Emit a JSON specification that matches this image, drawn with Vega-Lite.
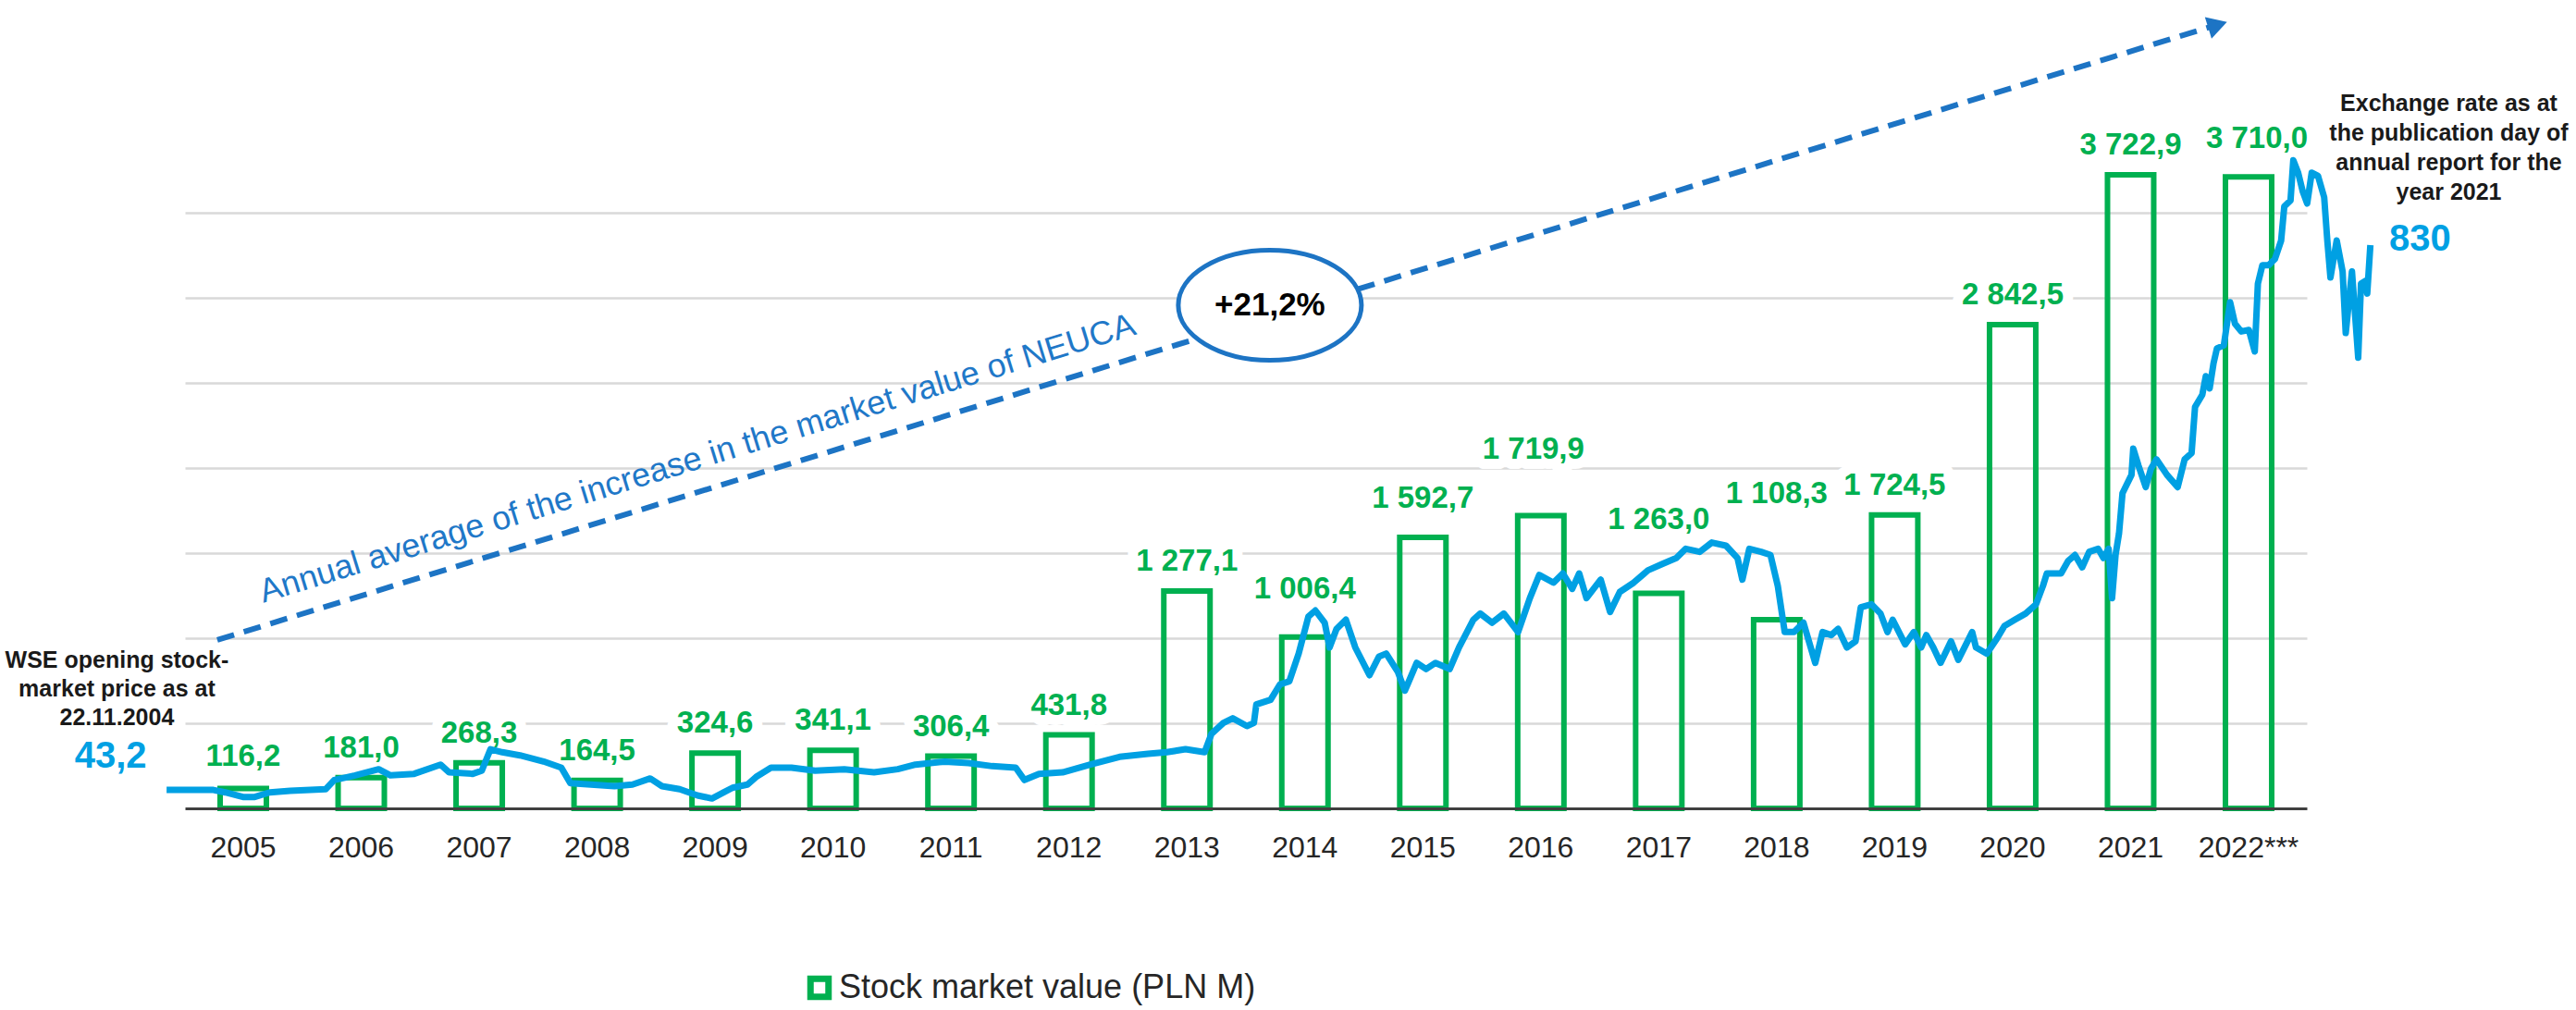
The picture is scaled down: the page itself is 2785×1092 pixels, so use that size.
{
  "$schema": "https://vega.github.io/schema/vega-lite/v6.json",
  "width": 2294,
  "height": 644,
  "autosize": {"type": "none"},
  "padding": {"left": 200, "top": 230, "right": 291, "bottom": 218},
  "background": "white",
  "config": {
    "font": "Liberation Sans",
    "view": {"stroke": null},
    "locale": {"number": {"decimal": ",", "thousands": " ", "grouping": [3], "currency": ["", ""]}}
  },
  "datasets": {
    "bars": [
      {"year": "2005", "value": 116.2},
      {"year": "2006", "value": 181.0},
      {"year": "2007", "value": 268.3},
      {"year": "2008", "value": 164.5},
      {"year": "2009", "value": 324.6},
      {"year": "2010", "value": 341.1},
      {"year": "2011", "value": 306.4},
      {"year": "2012", "value": 431.8},
      {"year": "2013", "value": 1277.1},
      {"year": "2014", "value": 1006.4},
      {"year": "2015", "value": 1592.7},
      {"year": "2016", "value": 1719.9},
      {"year": "2017", "value": 1263.0},
      {"year": "2018", "value": 1108.3},
      {"year": "2019", "value": 1724.5},
      {"year": "2020", "value": 2842.5},
      {"year": "2021", "value": 3722.9},
      {"year": "2022***", "value": 3710.0}
    ],
    "price": [
      {"date": "2004-11-22", "price": 43.2},
      {"date": "2005-04-06", "price": 43.0},
      {"date": "2005-05-10", "price": 39.5},
      {"date": "2005-06-30", "price": 32.9},
      {"date": "2005-08-03", "price": 32.9},
      {"date": "2005-09-15", "price": 39.5},
      {"date": "2005-11-13", "price": 41.8},
      {"date": "2006-02-23", "price": 44.1},
      {"date": "2006-03-20", "price": 57.4},
      {"date": "2006-05-19", "price": 64.1},
      {"date": "2006-07-26", "price": 72.9},
      {"date": "2006-08-29", "price": 64.1},
      {"date": "2006-11-05", "price": 66.3},
      {"date": "2007-01-20", "price": 79.6},
      {"date": "2007-02-14", "price": 68.5},
      {"date": "2007-04-23", "price": 66.3},
      {"date": "2007-05-19", "price": 70.8},
      {"date": "2007-06-13", "price": 101.9},
      {"date": "2007-07-17", "price": 97.5},
      {"date": "2007-09-06", "price": 93.0},
      {"date": "2007-11-13", "price": 84.2},
      {"date": "2008-01-03", "price": 75.2},
      {"date": "2008-01-29", "price": 52.9},
      {"date": "2008-03-28", "price": 50.8},
      {"date": "2008-06-04", "price": 48.5},
      {"date": "2008-07-26", "price": 50.8},
      {"date": "2008-09-15", "price": 59.6},
      {"date": "2008-10-19", "price": 48.5},
      {"date": "2008-12-09", "price": 44.1},
      {"date": "2009-01-29", "price": 35.1},
      {"date": "2009-03-12", "price": 30.7},
      {"date": "2009-04-15", "price": 39.5},
      {"date": "2009-05-10", "price": 46.2},
      {"date": "2009-06-22", "price": 50.8},
      {"date": "2009-07-17", "price": 61.8},
      {"date": "2009-08-29", "price": 75.2},
      {"date": "2009-10-27", "price": 75.2},
      {"date": "2010-01-03", "price": 70.8},
      {"date": "2010-03-28", "price": 73.0},
      {"date": "2010-06-22", "price": 68.5},
      {"date": "2010-08-29", "price": 73.0},
      {"date": "2010-10-19", "price": 79.6},
      {"date": "2011-01-12", "price": 84.0},
      {"date": "2011-03-21", "price": 81.9},
      {"date": "2011-05-28", "price": 77.4},
      {"date": "2011-08-04", "price": 75.2},
      {"date": "2011-08-29", "price": 57.4},
      {"date": "2011-10-10", "price": 66.3},
      {"date": "2011-12-17", "price": 68.5},
      {"date": "2012-03-08", "price": 80.0},
      {"date": "2012-05-29", "price": 90.8},
      {"date": "2012-08-19", "price": 95.2},
      {"date": "2012-10-12", "price": 97.5},
      {"date": "2012-12-05", "price": 101.9},
      {"date": "2013-01-29", "price": 97.5},
      {"date": "2013-02-18", "price": 124.2},
      {"date": "2013-03-24", "price": 139.8},
      {"date": "2013-04-20", "price": 146.5},
      {"date": "2013-05-31", "price": 135.3},
      {"date": "2013-06-20", "price": 139.8},
      {"date": "2013-06-27", "price": 166.5},
      {"date": "2013-08-07", "price": 173.2},
      {"date": "2013-09-03", "price": 195.4},
      {"date": "2013-09-30", "price": 199.9},
      {"date": "2013-10-27", "price": 240.0},
      {"date": "2013-11-24", "price": 293.4},
      {"date": "2013-12-14", "price": 302.3},
      {"date": "2014-01-10", "price": 284.5},
      {"date": "2014-01-24", "price": 248.9},
      {"date": "2014-02-13", "price": 275.6},
      {"date": "2014-03-12", "price": 288.9},
      {"date": "2014-04-08", "price": 248.9},
      {"date": "2014-05-19", "price": 208.8},
      {"date": "2014-06-15", "price": 235.5},
      {"date": "2014-07-06", "price": 240.0},
      {"date": "2014-08-09", "price": 213.2},
      {"date": "2014-08-29", "price": 186.5},
      {"date": "2014-10-02", "price": 226.6},
      {"date": "2014-10-29", "price": 217.7},
      {"date": "2014-11-25", "price": 226.6},
      {"date": "2015-01-05", "price": 217.7},
      {"date": "2015-02-01", "price": 248.9},
      {"date": "2015-03-14", "price": 288.9},
      {"date": "2015-04-03", "price": 297.8},
      {"date": "2015-05-07", "price": 284.5},
      {"date": "2015-06-10", "price": 297.8},
      {"date": "2015-07-21", "price": 271.1},
      {"date": "2015-08-24", "price": 320.1},
      {"date": "2015-09-20", "price": 353.5},
      {"date": "2015-10-31", "price": 342.4},
      {"date": "2015-11-27", "price": 355.7},
      {"date": "2015-12-24", "price": 333.5},
      {"date": "2016-01-13", "price": 355.7},
      {"date": "2016-02-03", "price": 320.1},
      {"date": "2016-03-15", "price": 346.8},
      {"date": "2016-04-11", "price": 300.1},
      {"date": "2016-05-09", "price": 329.0},
      {"date": "2016-06-18", "price": 342.4},
      {"date": "2016-07-29", "price": 360.2},
      {"date": "2016-09-07", "price": 369.1},
      {"date": "2016-10-19", "price": 378.0},
      {"date": "2016-11-15", "price": 391.4},
      {"date": "2016-12-25", "price": 386.9},
      {"date": "2017-01-29", "price": 400.3},
      {"date": "2017-03-11", "price": 395.8},
      {"date": "2017-04-13", "price": 378.0},
      {"date": "2017-04-27", "price": 346.8},
      {"date": "2017-05-17", "price": 391.4},
      {"date": "2017-06-20", "price": 386.9},
      {"date": "2017-07-17", "price": 382.5},
      {"date": "2017-08-07", "price": 337.9},
      {"date": "2017-08-27", "price": 271.1},
      {"date": "2017-09-23", "price": 271.1},
      {"date": "2017-10-20", "price": 284.5},
      {"date": "2017-11-23", "price": 226.6},
      {"date": "2017-12-14", "price": 271.1},
      {"date": "2018-01-08", "price": 266.7},
      {"date": "2018-01-28", "price": 275.6},
      {"date": "2018-02-22", "price": 248.8},
      {"date": "2018-03-19", "price": 257.7},
      {"date": "2018-04-03", "price": 306.7},
      {"date": "2018-05-04", "price": 311.2},
      {"date": "2018-05-30", "price": 297.8},
      {"date": "2018-06-19", "price": 271.1},
      {"date": "2018-07-04", "price": 288.9},
      {"date": "2018-08-09", "price": 253.3},
      {"date": "2018-09-03", "price": 271.1},
      {"date": "2018-09-24", "price": 248.8},
      {"date": "2018-10-09", "price": 266.7},
      {"date": "2018-10-29", "price": 248.8},
      {"date": "2018-11-19", "price": 226.6},
      {"date": "2018-12-19", "price": 257.7},
      {"date": "2019-01-09", "price": 231.0},
      {"date": "2019-02-18", "price": 271.1},
      {"date": "2019-03-01", "price": 248.8},
      {"date": "2019-04-01", "price": 239.9},
      {"date": "2019-05-01", "price": 262.2},
      {"date": "2019-05-22", "price": 280.0},
      {"date": "2019-06-21", "price": 288.9},
      {"date": "2019-07-22", "price": 297.8},
      {"date": "2019-08-21", "price": 311.2},
      {"date": "2019-09-10", "price": 337.9},
      {"date": "2019-09-21", "price": 355.7},
      {"date": "2019-11-01", "price": 355.7},
      {"date": "2019-11-21", "price": 373.5},
      {"date": "2019-12-11", "price": 382.4},
      {"date": "2020-01-01", "price": 364.6},
      {"date": "2020-01-21", "price": 386.9},
      {"date": "2020-02-16", "price": 391.3},
      {"date": "2020-03-02", "price": 378.0},
      {"date": "2020-03-17", "price": 391.3},
      {"date": "2020-03-27", "price": 320.1},
      {"date": "2020-04-06", "price": 382.4},
      {"date": "2020-04-16", "price": 413.6},
      {"date": "2020-04-26", "price": 471.5},
      {"date": "2020-05-22", "price": 498.2},
      {"date": "2020-05-27", "price": 536.1},
      {"date": "2020-06-11", "price": 511.6},
      {"date": "2020-07-02", "price": 480.4},
      {"date": "2020-07-17", "price": 507.1},
      {"date": "2020-08-02", "price": 520.5},
      {"date": "2020-09-01", "price": 498.2},
      {"date": "2020-10-02", "price": 480.4},
      {"date": "2020-10-22", "price": 520.5},
      {"date": "2020-11-11", "price": 529.4},
      {"date": "2020-11-21", "price": 596.2},
      {"date": "2020-12-12", "price": 614.0},
      {"date": "2020-12-22", "price": 640.7},
      {"date": "2021-01-02", "price": 622.9},
      {"date": "2021-01-13", "price": 658.5},
      {"date": "2021-01-23", "price": 680.8},
      {"date": "2021-02-12", "price": 685.2},
      {"date": "2021-03-02", "price": 747.5},
      {"date": "2021-03-16", "price": 716.3},
      {"date": "2021-04-03", "price": 705.2},
      {"date": "2021-04-25", "price": 707.4},
      {"date": "2021-05-12", "price": 676.3},
      {"date": "2021-05-21", "price": 774.2},
      {"date": "2021-06-03", "price": 801.0},
      {"date": "2021-06-21", "price": 801.0},
      {"date": "2021-07-09", "price": 809.9},
      {"date": "2021-07-27", "price": 836.6},
      {"date": "2021-08-05", "price": 885.6},
      {"date": "2021-08-23", "price": 894.5},
      {"date": "2021-08-31", "price": 952.4},
      {"date": "2021-09-14", "price": 934.5},
      {"date": "2021-09-27", "price": 907.8},
      {"date": "2021-10-10", "price": 890.0},
      {"date": "2021-10-23", "price": 934.5},
      {"date": "2021-11-10", "price": 930.1},
      {"date": "2021-11-28", "price": 898.9},
      {"date": "2021-12-07", "price": 836.6},
      {"date": "2021-12-16", "price": 783.1},
      {"date": "2022-01-03", "price": 836.6},
      {"date": "2022-01-20", "price": 792.0},
      {"date": "2022-01-29", "price": 703.0},
      {"date": "2022-02-16", "price": 792.0},
      {"date": "2022-03-06", "price": 667.4},
      {"date": "2022-03-14", "price": 774.2},
      {"date": "2022-03-28", "price": 778.7},
      {"date": "2022-04-01", "price": 760.0},
      {"date": "2022-04-10", "price": 830.0}
    ]
  },
  "layer": [
    {
      "data": {"name": "bars"},
      "encoding": {
        "x": {
          "field": "year", "type": "nominal", "sort": null,
          "scale": {"type": "band", "paddingInner": 0.608, "paddingOuter": 0.298},
          "axis": {"title": null, "labelFontSize": 32, "labelColor": "#262626", "labelAngle": 0, "ticks": false, "labelPadding": 27, "domainColor": "#404040", "domainWidth": 3, "zindex": 1, "grid": false}
        },
        "y": {
          "field": "value", "type": "quantitative",
          "scale": {"domain": [0, 3500], "nice": false},
          "axis": {"title": null, "values": [500, 1000, 1500, 2000, 2500, 3000, 3500], "grid": true, "gridColor": "#D9D9D9", "gridWidth": 2.5, "labels": false, "ticks": false, "domain": false}
        }
      },
      "layer": [
        {
          "mark": {
            "type": "text", "fontSize": 33, "fontWeight": "bold", "align": "center", "baseline": "alphabetic",
            "fill": "white", "stroke": "white", "strokeWidth": 22, "strokeJoin": "round",
            "dy": {"expr": "datum.year=='2014'?-42:datum.year=='2015'?-32:datum.year=='2016'?-62:datum.year=='2017'?-70:datum.year=='2018'?-126:datum.year=='2022***'?-31:datum.year=='2005'?-25:-22"},
            "dx": {"expr": "datum.year=='2022***'?9:datum.year=='2016'?-8:0"}
          },
          "encoding": {"text": {"field": "value", "type": "quantitative", "format": ",.1f"}}
        },
        {
          "mark": {"type": "bar", "fill": "white", "fillOpacity": 0, "strokeWidth": 6},
          "encoding": {
            "stroke": {
              "datum": "Stock market value (PLN M)", "type": "nominal",
              "scale": {"range": ["#00B050"]},
              "legend": {"orient": "none", "legendX": 668, "legendY": 820, "title": null, "symbolType": "square", "symbolSize": 380, "symbolStrokeWidth": 7, "symbolFillColor": "white", "labelFontSize": 36, "labelColor": "#262626", "labelOffset": 3, "labelLimit": 1000, "padding": 0}
            }
          }
        },
        {
          "mark": {
            "type": "text", "fontSize": 33, "fontWeight": "bold", "align": "center", "baseline": "alphabetic", "color": "#00B050",
            "dy": {"expr": "datum.year=='2014'?-42:datum.year=='2015'?-32:datum.year=='2016'?-62:datum.year=='2017'?-70:datum.year=='2018'?-126:datum.year=='2022***'?-31:datum.year=='2005'?-25:-22"},
            "dx": {"expr": "datum.year=='2022***'?9:datum.year=='2016'?-8:0"}
          },
          "encoding": {"text": {"field": "value", "type": "quantitative", "format": ",.1f"}}
        }
      ]
    },
    {
      "layer": [
        {
          "data": {"name": "price"},
          "mark": {"type": "line", "color": "#00A0E3", "strokeWidth": 7, "strokeJoin": "round"},
          "encoding": {
            "x": {"field": "date", "type": "temporal", "axis": null,
              "scale": {"domain": [{"year": 2005, "month": 1, "date": 14, "utc": true}, {"year": 2021, "month": 10, "date": 9, "utc": true}], "nice": false}},
            "y": {"field": "price", "type": "quantitative", "axis": null,
              "scale": {"domain": [16.43, 876.7], "nice": false, "zero": false}}
          }
        },
        {
          "data": {"values": [{}]},
          "mark": {"type": "rule", "color": "#1D74C4", "strokeWidth": 6, "strokeDash": [19, 11]},
          "encoding": {
            "x": {"datum": {"year": 2005, "month": 4, "date": 17, "utc": true}, "type": "temporal"},
            "x2": {"datum": {"year": 2021, "month": 1, "date": 4, "utc": true}},
            "y": {"datum": 259.6, "type": "quantitative"},
            "y2": {"datum": 1145.2}
          }
        },
        {
          "data": {"values": [{}]},
          "mark": {"type": "point", "shape": "triangle-right", "angle": -17.1, "size": 600, "filled": true, "color": "#1D74C4", "opacity": 1},
          "encoding": {
            "x": {"datum": {"year": 2021, "month": 1, "date": 25, "utc": true}, "type": "temporal"},
            "y": {"datum": 1147.9, "type": "quantitative"}
          }
        },
        {
          "data": {"values": [{}]},
          "mark": {"type": "point", "shape": "M -1 0 C -1 -0.332 -0.552 -0.601 0 -0.601 C 0.552 -0.601 1 -0.332 1 0 C 1 0.332 0.552 0.601 0 0.601 C -0.552 0.601 -1 0.332 -1 0 Z", "size": 39204, "filled": true, "fill": "white", "stroke": "#1D74C4", "strokeWidth": 5, "opacity": 1},
          "encoding": {
            "x": {"datum": {"year": 2013, "month": 8, "date": 5, "utc": true}, "type": "temporal"},
            "y": {"datum": 743.1, "type": "quantitative"}
          }
        },
        {
          "data": {"values": [{}]},
          "mark": {"type": "text", "fontSize": 35, "fontWeight": "bold", "color": "#000000", "align": "center", "baseline": "middle"},
          "encoding": {
            "x": {"datum": {"year": 2013, "month": 8, "date": 5, "utc": true}, "type": "temporal"},
            "y": {"datum": 743.1, "type": "quantitative"},
            "text": {"value": "+21,2%"}
          }
        },
        {
          "data": {"values": [{}]},
          "mark": {"type": "text", "fontSize": 36, "color": "#1F78C8", "align": "center", "baseline": "middle", "angle": -17.1},
          "encoding": {
            "x": {"datum": {"year": 2009, "month": 1, "date": 29, "utc": true}, "type": "temporal"},
            "y": {"datum": 521.4, "type": "quantitative"},
            "text": {"value": "Annual average of the increase in the market value of NEUCA"}
          }
        },
        {
          "data": {"values": [{}]},
          "mark": {"type": "text", "fontSize": 25, "fontWeight": "bold", "color": "#1A1A1A", "align": "center", "baseline": "middle", "lineHeight": 31},
          "encoding": {
            "x": {"datum": {"year": 2004, "month": 7, "date": 2, "utc": true}, "type": "temporal"},
            "y": {"datum": 230.2, "type": "quantitative"},
            "text": {"value": ["WSE opening stock-", "market price as at", "22.11.2004"]}
          }
        },
        {
          "data": {"values": [{}]},
          "mark": {"type": "text", "fontSize": 40, "fontWeight": "bold", "color": "#00A0E3", "align": "center", "baseline": "middle"},
          "encoding": {
            "x": {"datum": {"year": 2004, "month": 6, "date": 14, "utc": true}, "type": "temporal"},
            "y": {"datum": 91.2, "type": "quantitative"},
            "text": {"value": "43,2"}
          }
        },
        {
          "data": {"values": [{}]},
          "mark": {"type": "text", "fontSize": 40, "fontWeight": "bold", "color": "#00A0E3", "align": "center", "baseline": "middle"},
          "encoding": {
            "x": {"datum": {"year": 2022, "month": 8, "date": 31, "utc": true}, "type": "temporal"},
            "y": {"datum": 838.6, "type": "quantitative"},
            "text": {"value": "830"}
          }
        },
        {
          "data": {"values": [{}]},
          "mark": {"type": "text", "fontSize": 25, "fontWeight": "bold", "color": "#1A1A1A", "align": "center", "baseline": "middle", "lineHeight": 32},
          "encoding": {
            "x": {"datum": {"year": 2022, "month": 11, "date": 22, "utc": true}, "type": "temporal"},
            "y": {"datum": 1034.7, "type": "quantitative"},
            "text": {"value": ["Exchange rate as at", "the publication day of", "annual report for the", "year 2021"]}
          }
        }
      ]
    }
  ],
  "resolve": {"scale": {"x": "independent", "y": "independent"}}
}
